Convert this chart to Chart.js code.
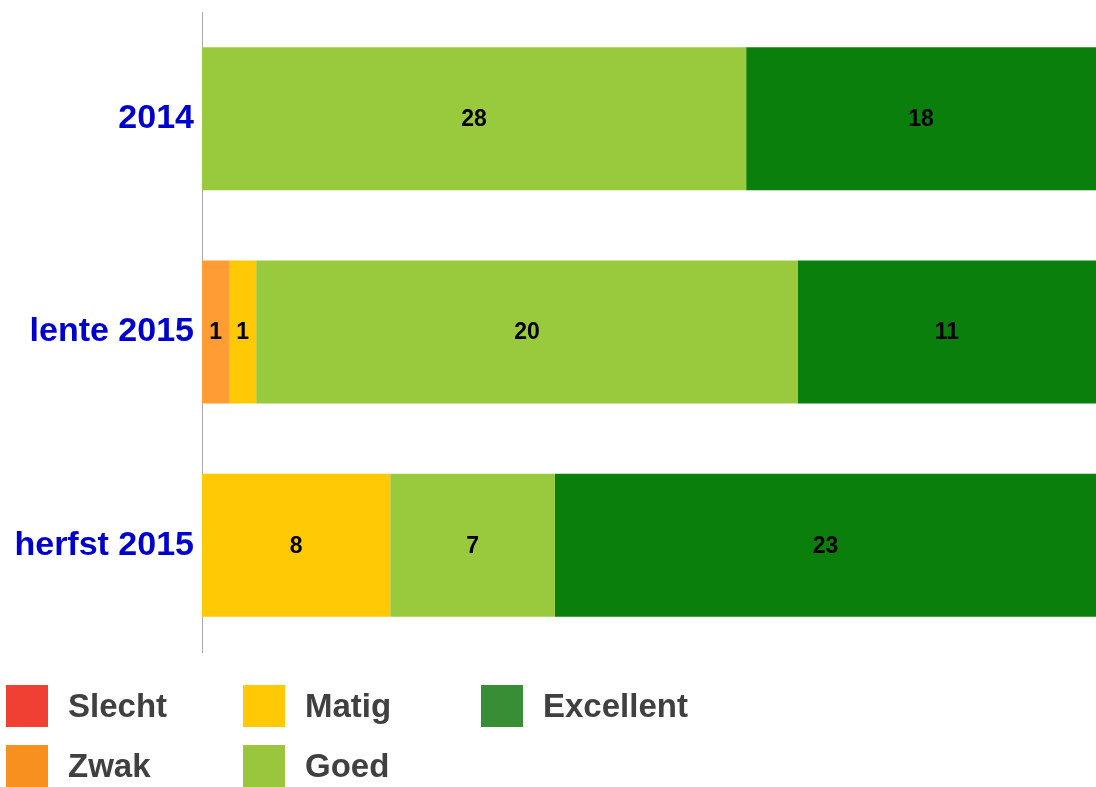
<!DOCTYPE html>
<html>
<head>
<meta charset="utf-8">
<script src="https://cdn.jsdelivr.net/npm/chart.js@4/dist/chart.umd.min.js"></script>
<style>
  html, body { margin: 0; padding: 0; background: #fff; }
  #wrap { position: relative; width: 1096px; height: 787px; }
  #c { position: absolute; left: 0; top: 0; }
  .leg { position: absolute; display: flex; align-items: center; font-family: "Liberation Sans", Arial, sans-serif; font-weight: bold; font-size: 33px; color: #404040; height: 42px; }
  .leg .sw { width: 42px; height: 42px; margin-right: 20px; }
</style>
</head>
<body>
<div id="wrap">
  <canvas id="c" width="1096" height="787"></canvas>
  <div id="legend"></div>
</div>
<script>
const categories = ["2014", "lente 2015", "herfst 2015"];
const seriesNames = ["Slecht", "Zwak", "Matig", "Goed", "Excellent"];
const slecht    = [0, 0, 0];
const zwak      = [0, 1, 0];
const matig     = [0, 1, 8];
const goed      = [28, 20, 7];
const excellent = [18, 11, 23];
const barColors    = ["#f04034", "#ff9c33", "#ffc905", "#99c93c", "#0b7f0b"];
const legendColors = ["#f04034", "#f7901e", "#ffc905", "#99c63c", "#388e34"];

const counts = [slecht, zwak, matig, goed, excellent];
const totals = categories.map((_, i) => counts.reduce((s, a) => s + a[i], 0));

const datasets = counts.map((arr, k) => ({
  label: seriesNames[k],
  data: arr.map((v, i) => v / totals[i] * 100),
  counts: arr,
  backgroundColor: barColors[k],
  borderWidth: 0,
  categoryPercentage: 1,
  barPercentage: 0.67
}));

const valueLabels = {
  id: 'valueLabels',
  afterDatasetsDraw(chart) {
    const ctx = chart.ctx;
    ctx.save();
    ctx.font = 'bold 23px "Liberation Sans", Arial, sans-serif';
    ctx.fillStyle = '#000';
    ctx.textAlign = 'center';
    ctx.textBaseline = 'middle';
    chart.data.datasets.forEach((ds, di) => {
      const meta = chart.getDatasetMeta(di);
      meta.data.forEach((bar, i) => {
        const c = ds.counts[i];
        if (!c) return;
        const x = (bar.x + bar.base) / 2;
        ctx.fillText(String(c), x, bar.y + 1);
      });
    });
    ctx.restore();
  }
};

new Chart(document.getElementById('c'), {
  type: 'bar',
  data: { labels: categories, datasets },
  options: {
    indexAxis: 'y',
    responsive: false,
    animation: false,
    layout: { padding: { top: 12, bottom: 135, left: 0, right: 0 } },
    plugins: { legend: { display: false }, tooltip: { enabled: false } },
    scales: {
      x: { stacked: true, min: 0, max: 100, display: false },
      y: {
        stacked: true,
        grid: { display: false, drawTicks: false },
        border: { display: true, color: '#aaaaaa', width: 1 },
        ticks: {
          color: '#0000cc',
          padding: 8,
          font: { family: '"Liberation Sans", Arial, sans-serif', weight: 'bold', size: 34 }
        },
        afterFit(scale) {
          scale.width = 202;
          scale.paddingTop = 0;
          scale.paddingBottom = 0;
        }
      }
    }
  },
  plugins: [valueLabels]
});

// legend (column-major, 2 rows)
const legendPos = [[6, 685], [6, 745], [243, 685], [243, 745], [481, 685]];
const legendEl = document.getElementById('legend');
seriesNames.forEach((name, k) => {
  const d = document.createElement('div');
  d.className = 'leg';
  d.style.left = legendPos[k][0] + 'px';
  d.style.top = legendPos[k][1] + 'px';
  const sw = document.createElement('div');
  sw.className = 'sw';
  sw.style.background = legendColors[k];
  const t = document.createElement('span');
  t.textContent = name;
  d.appendChild(sw); d.appendChild(t);
  legendEl.appendChild(d);
});
</script>
</body>
</html>
